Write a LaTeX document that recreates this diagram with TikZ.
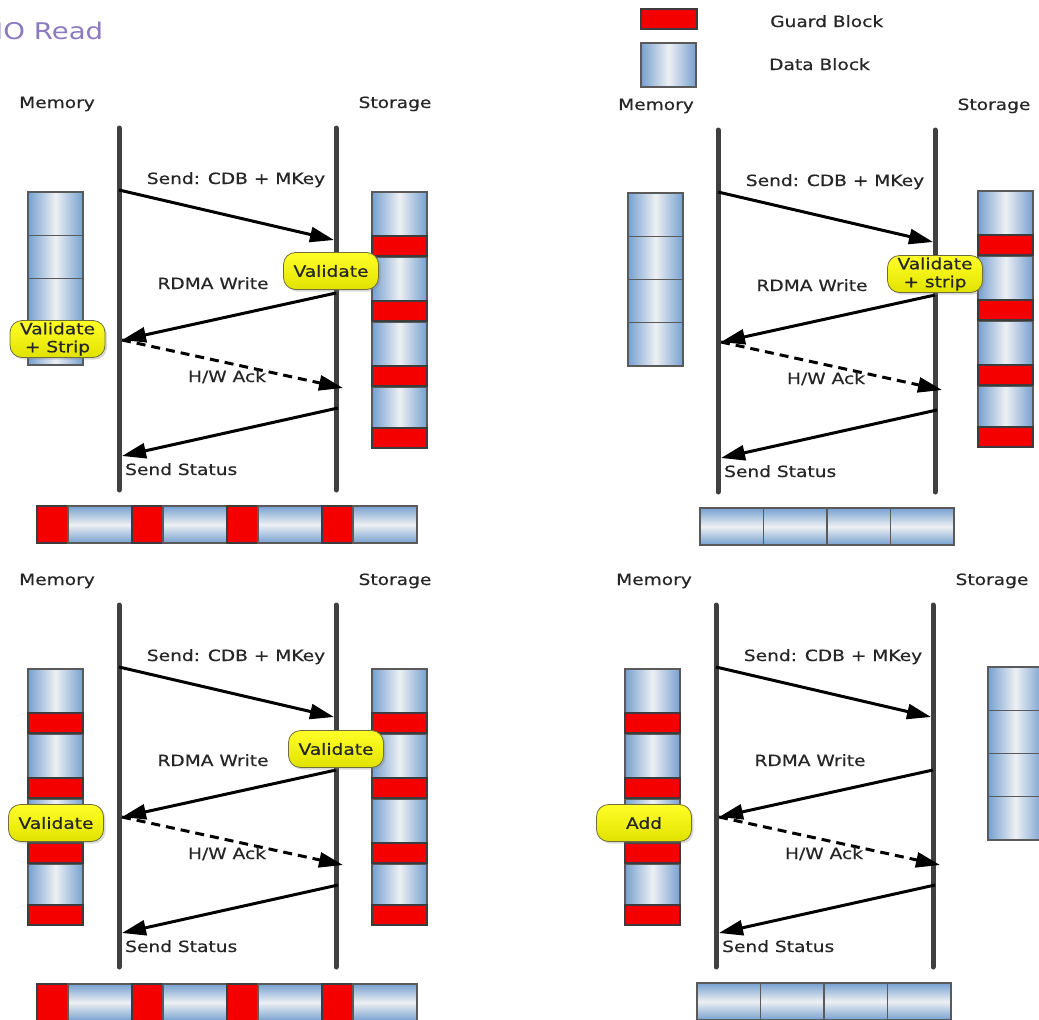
\documentclass[tikz,border=0pt]{standalone}
\usepackage{fontspec}
\usepackage{tikz}
\usetikzlibrary{arrows.meta,shadows}
\usepackage{color}

\newfontfamily\lblfamily[FakeStretch=1.2,FakeBold=0.5]{DejaVu Sans}
\newfontfamily\ttlfamily[FakeStretch=1.2]{DejaVu Sans}
\newcommand\lblfont{\lblfamily\fontsize{15.5}{18}\selectfont}
\newcommand\ttlfont{\ttlfamily\fontsize{23}{26}\selectfont}

\definecolor{blkblue}{RGB}{118,160,208}
\definecolor{blkmid}{RGB}{238,240,243}
\definecolor{blkedge}{RGB}{90,90,90}
\definecolor{grdred}{RGB}{245,0,0}
\definecolor{grdedge}{RGB}{60,60,60}
\definecolor{lifegray}{RGB}{64,64,64}
\definecolor{txtgray}{RGB}{38,38,38}
\definecolor{bubtop}{RGB}{255,255,40}
\definecolor{bubbot}{RGB}{226,226,0}
\definecolor{bubedge}{RGB}{110,110,60}
\definecolor{ttlpurple}{RGB}{140,122,192}

\tikzset{
  lbl/.style={anchor=base, inner sep=0pt, font=\lblfont, text=txtgray},
  lifeline/.style={line width=5pt, draw=lifegray, line cap=round},
  msg/.style={line width=3pt, -{Triangle[length=24pt,width=15pt]}},
  ack/.style={msg, dash pattern=on 9pt off 6pt},
  datablk/.style={draw=blkedge, line width=1.2pt, left color=blkblue, right color=blkblue, middle color=blkmid},
  datahblk/.style={draw=blkedge, line width=1.2pt, top color=blkblue, bottom color=blkblue, middle color=blkmid},
  guardblk/.style={draw=grdedge, line width=1.8pt, fill=grdred},
  bubble/.style={draw=bubedge, line width=0.8pt, rounded corners=12pt, top color=bubtop, bottom color=bubbot,
    minimum width=95pt, minimum height=37pt, inner sep=2pt, align=center, font=\lblfont, text=txtgray,
    drop shadow={shadow xshift=2pt, shadow yshift=-2pt, opacity=0.3}}
}

% column of data blocks: x, top
\newcommand\datastack[2]{%
  \foreach \t in {0,43.25,86.5,129.75}{\draw[datablk] (#1,#2+\t) rectangle ++(55,43.25);}}
% column of data blocks, each followed by a guard block: x, top
\newcommand\guardstack[2]{%
  \foreach \t/\h in {0/44,65/44,130/44,195/41}{\draw[datablk] (#1,#2+\t) rectangle ++(55,\h);}
  \foreach \t in {44,109,174,236}{\draw[guardblk] (#1,#2+\t) rectangle ++(55,20);}}
% row of data blocks: left, y
\newcommand\databar[2]{%
  \foreach \t in {0,63.5,127,190.5}{\draw[datahblk] (#1+\t,#2) rectangle ++(63.5,37);}}
% row of guard + data pairs: left, y
\newcommand\guardbar[2]{%
  \foreach \t in {0,95,190,285}{%
    \draw[guardblk] (#1+\t,#2) rectangle ++(31,37);
    \draw[datahblk] (#1+\t+31,#2) rectangle ++(64,37);}}

% lifelines and the four messages, names prefixed by #1
\newcommand\seqchart[1]{%
  \coordinate (#1mt) at (0,0);
  \coordinate (#1mb) at (0,362);
  \coordinate (#1st) at (217,0);
  \coordinate (#1sb) at (217,362);
  \draw[lifeline] (#1mt) -- (#1mb);
  \draw[lifeline] (#1st) -- (#1sb);
  \node[lbl] (#1mem) at (-62,-20) {Memory};
  \node[lbl] (#1sto) at (276,-20) {Storage};
  \coordinate (#1m1) at (0,62);
  \coordinate (#1s1) at (215,112);
  \coordinate (#1s2) at (217,165);
  \coordinate (#1m2) at (3,212);
  \coordinate (#1s3) at (224,260);
  \coordinate (#1s4) at (219,280);
  \coordinate (#1m4) at (3,328);
  \draw[msg] (#1m1) -- (#1s1);
  \draw[msg] (#1s2) -- (#1m2);
  \draw[ack] (#1m2) -- (#1s3);
  \draw[msg] (#1s4) -- (#1m4);
  \node[lbl] (#1cdb) at (117,56) {Send: CDB + MKey};
  \node[lbl] (#1rdma) at (94,161) {RDMA Write};
  \node[lbl] (#1hw) at (108,254) {H/W Ack};
  \node[lbl,anchor=base west] (#1stat) at (6,347) {Send Status};
}

\begin{document}
\begin{tikzpicture}[x=1pt,y=1pt,yscale=-1]
\useasboundingbox (0,0) rectangle (1039,1020);

% Title
\node[anchor=base west, inner sep=0pt, font=\ttlfont, text=ttlpurple] (title) at (-5,39) {IO Read};

% Legend
\node[guardblk, minimum width=56pt, minimum height=20pt, inner sep=0pt] (gkey) at (669,19) {};
\node[datablk, minimum width=55pt, minimum height=44pt, inner sep=0pt] (dkey) at (668.5,65) {};
\node[lbl, anchor=base west] (gtxt) at (770,27) {Guard Block};
\node[lbl, anchor=base west] (dtxt) at (769,70) {Data Block};

% top left: strip on both sides
\begin{scope}[shift={(119,128)}]
  \datastack{-91}{64}
  \guardstack{253}{64}
  \guardbar{-82}{378}
  \seqchart{a}
  \node[bubble] (aval) at (212,143) {Validate};
  \node[bubble] (astrip) at (-61.5,211) {Validate\\+ Strip};
\end{scope}

% top right: storage strips
\begin{scope}[shift={(718,130)}]
  \datastack{-90}{63}
  \guardstack{260}{61}
  \databar{-18}{378}
  \seqchart{b}
  \node[bubble] (bstrip) at (217,144) {Validate\\+ strip};
\end{scope}

% bottom left: guards kept end to end
\begin{scope}[shift={(119,605)}]
  \guardstack{-91}{64}
  \guardstack{253}{64}
  \guardbar{-82}{379}
  \seqchart{c}
  \node[bubble] (cval) at (217,144) {Validate};
  \node[bubble] (cmval) at (-63,218) {Validate};
\end{scope}

% bottom right: memory adds guards
\begin{scope}[shift={(716,605)}]
  \guardstack{-91}{64}
  \datastack{272}{62}
  \databar{-19}{378}
  \seqchart{d}
  \node[bubble] (dadd) at (-72,218) {Add};
\end{scope}
\end{tikzpicture}
\end{document}
